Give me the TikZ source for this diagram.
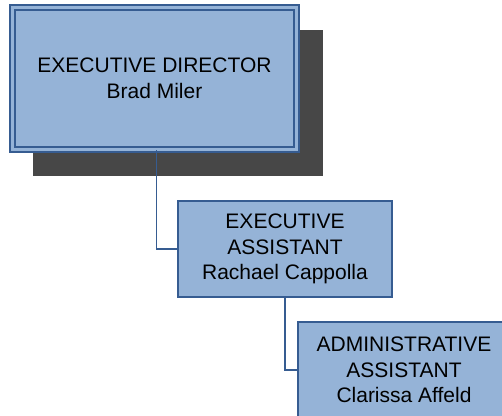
\documentclass[tikz,border=0pt]{standalone}
\usepackage{fontspec}
\setmainfont{Liberation Sans}
\definecolor{boxfill}{RGB}{149,179,215}
\definecolor{boxline}{RGB}{54,92,145}
\definecolor{shadowc}{RGB}{71,71,71}
\tikzset{
  orgbox/.style={draw=boxline, fill=boxfill, line width=1.3pt, align=center, inner sep=0pt,
    font=\fontsize{21}{25.5}\selectfont, text=black},
  link/.style={draw=boxline, line width=1.5pt}
}
\begin{document}
\begin{tikzpicture}[x=1pt,y=-1pt]
\useasboundingbox (0,0) rectangle (502,415);
\fill[shadowc] (33,30) rectangle (323,176);
\node[orgbox, double=boxfill, double distance=3.8pt, line width=1.2pt, minimum width=284pt, minimum height=142pt] (dir) at (154.5,78.5) {EXECUTIVE DIRECTOR\\Brad Miler};
\node[orgbox, minimum width=214pt, minimum height=96pt] (ea) at (285,249) {EXECUTIVE\\ASSISTANT\\Rachael Cappolla};
\node[orgbox, minimum width=212pt, minimum height=96pt] (aa) at (404,370) {ADMINISTRATIVE\\ASSISTANT\\Clarissa Affeld};
\draw[link] ([xshift=2pt]dir.south) |- (ea.west);
\draw[link] (ea.south) |- (aa.west);
\end{tikzpicture}
\end{document}
